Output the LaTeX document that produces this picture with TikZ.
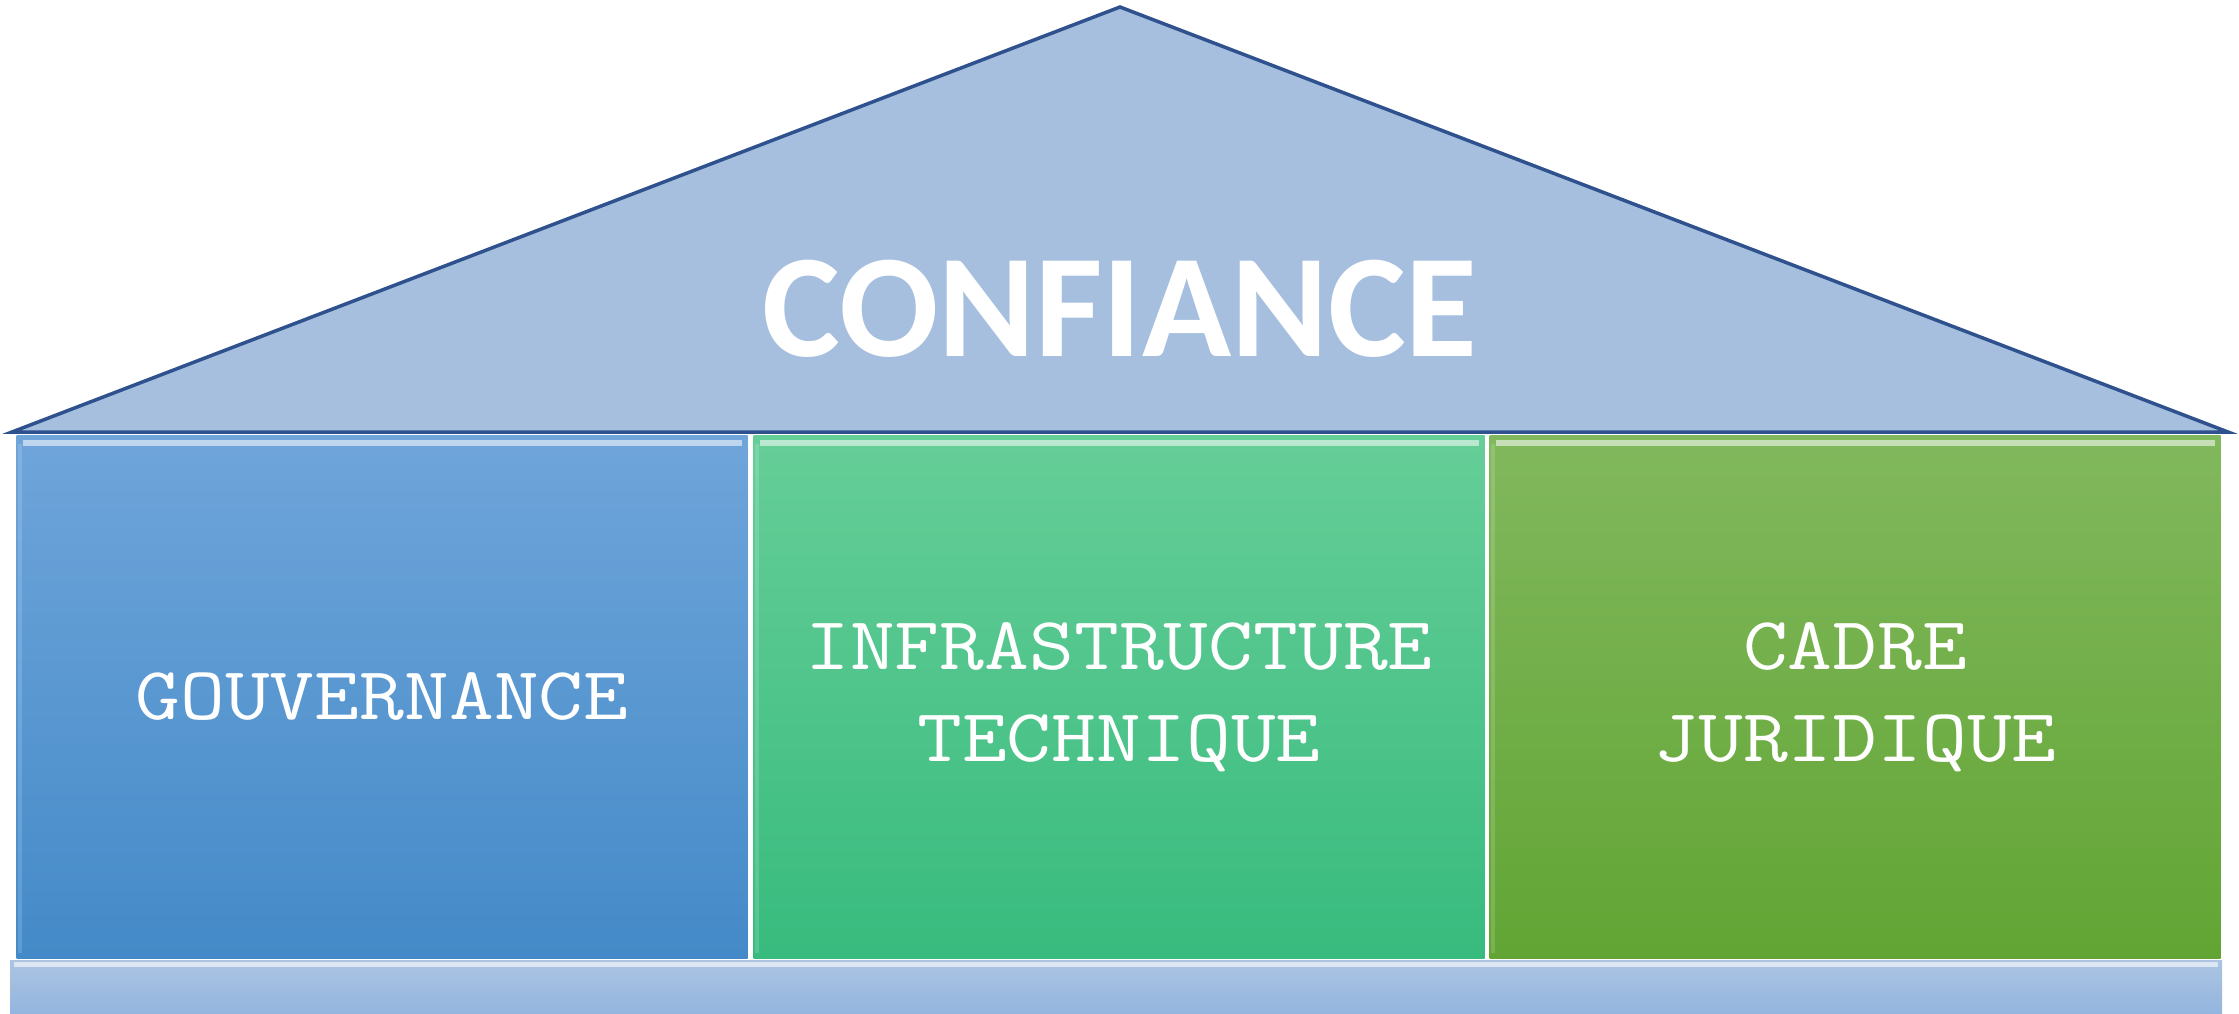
\documentclass[tikz,border=0pt]{standalone}
\usepackage{fontspec}
\newfontfamily\rooffont{Carlito}
\newfontfamily\pillarfont[FakeStretch=1.16]{Latin Modern Mono}
\usetikzlibrary{positioning,shadings}

\definecolor{roofblue}{RGB}{166,191,222}
\definecolor{roofline}{RGB}{47,82,143}
\definecolor{govtop}{RGB}{111,165,218}
\definecolor{govbot}{RGB}{68,138,200}
\definecolor{techtop}{RGB}{102,206,152}
\definecolor{techbot}{RGB}{56,187,126}
\definecolor{lawtop}{RGB}{129,184,93}
\definecolor{lawbot}{RGB}{98,165,52}
\definecolor{basetop}{RGB}{172,196,226}
\definecolor{basebot}{RGB}{147,181,222}

\tikzset{
  pillar/.style={rectangle, minimum width=731pt, minimum height=523pt,
    inner sep=0pt, outer sep=0pt, text=white, align=center,
    font=\pillarfont\fontsize{75}{92}\selectfont},
  bevel/.style={white, line width=6pt, opacity=0.55},
}
\newcommand{\drawbevel}[1]
{
  \draw [bevel] ([xshift=6pt,yshift=-7pt]#1.north west)
    -- ([xshift=-6pt,yshift=-7pt]#1.north east);
  \draw [white, line width=4pt, opacity=0.15]
    ([xshift=3pt,yshift=-8pt]#1.north west) -- ([xshift=3pt,yshift=6pt]#1.south west);
}

\begin{document}
\begin{tikzpicture}[x=1pt,y=-1pt]
    \useasboundingbox (0,0) rectangle (2239,1014);

    % base of the temple
    \shade [top color=basetop, bottom color=basebot] (10,960) rectangle (2222,1014);
    \draw [white, line width=5pt, opacity=0.6] (14,964) -- (2218,964);

    % roof
    \draw [fill=roofblue, draw=roofline, line width=3.5pt, line join=miter]
      (12,432) -- (1120,7) -- (2228,432) -- cycle;
    \node[font=\rooffont\bfseries\fontsize{147}{147}\selectfont, text=white,
      anchor=base] (trust) at (1120,356) {CONFIANCE};

    % pillars
    \node[pillar, top color=govtop, bottom color=govbot] (gov) at (382,697) {GOUVERNANCE};
    \node[pillar, top color=techtop, bottom color=techbot, right=6pt of gov] (tech)
      {INFRASTRUCTURE\\TECHNIQUE};
    \node[pillar, top color=lawtop, bottom color=lawbot, right=5pt of tech] (law)
      {CADRE\\JURIDIQUE};
    \drawbevel{gov}
    \drawbevel{tech}
    \drawbevel{law}
  \end{tikzpicture}
\end{document}
